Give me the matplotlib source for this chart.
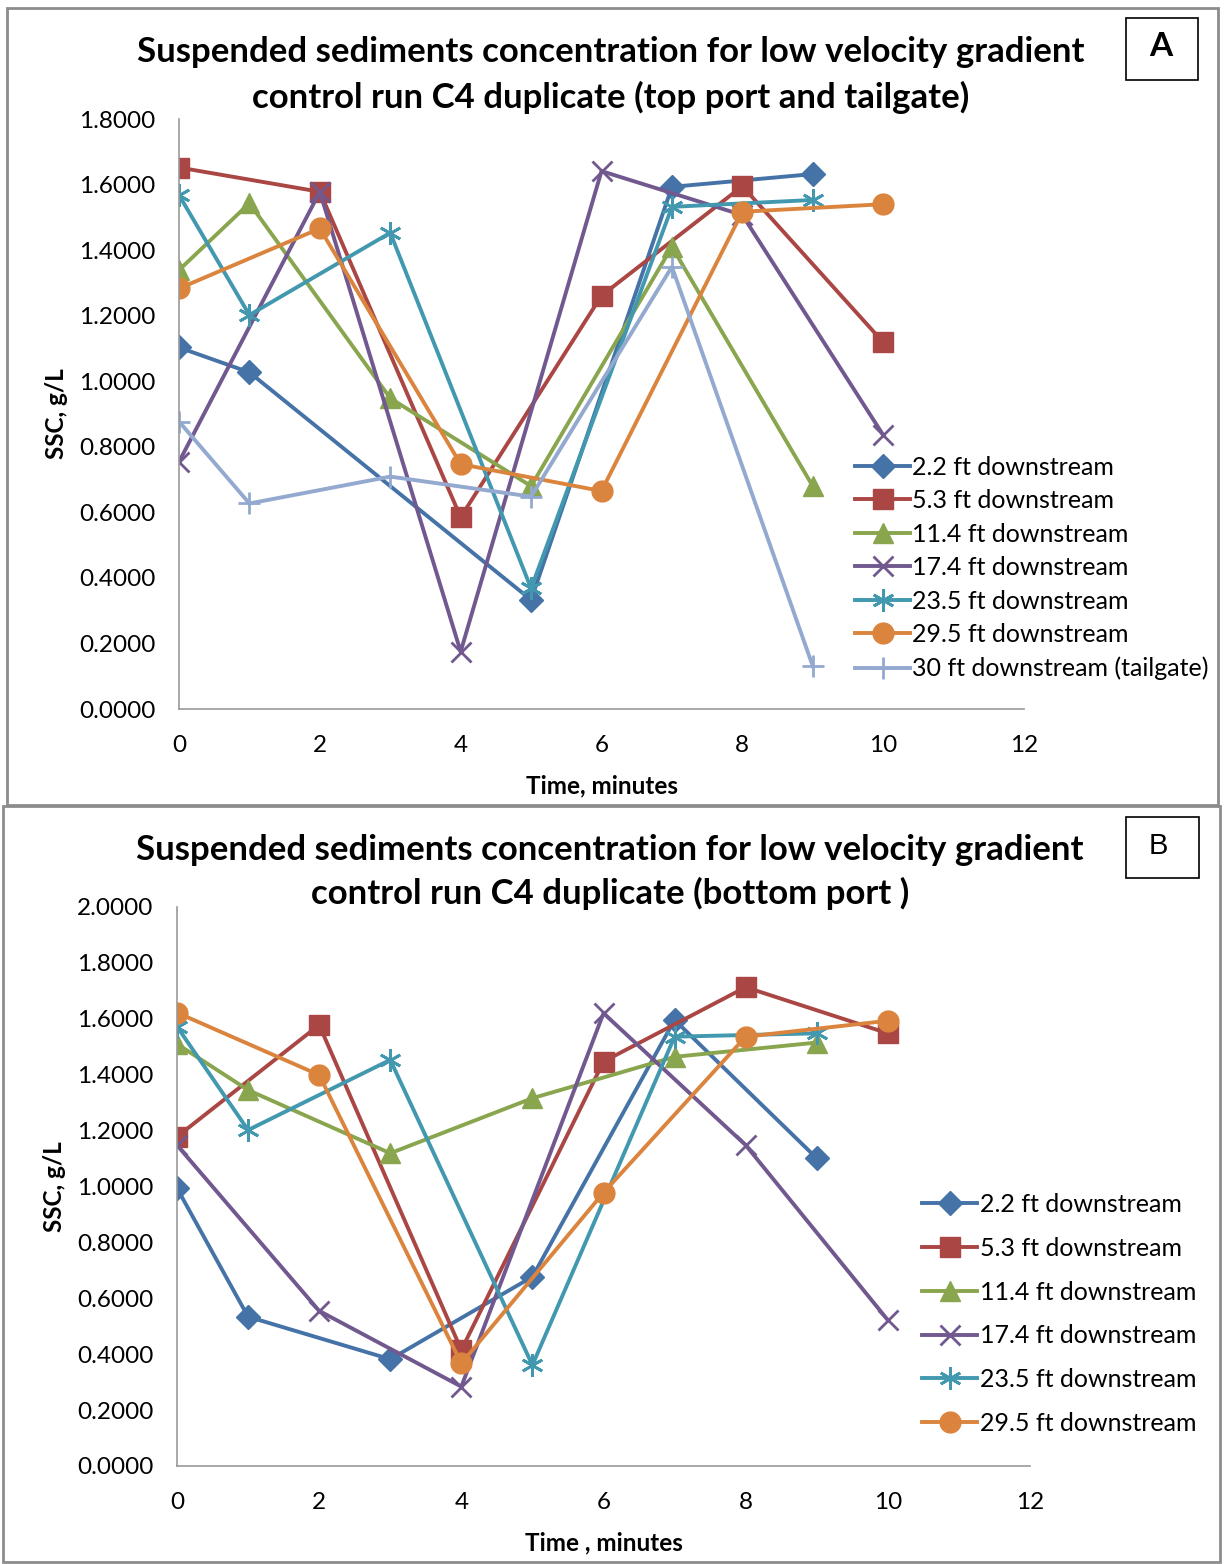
import numpy as np
import matplotlib
matplotlib.use("Agg")
import matplotlib.pyplot as plt
from matplotlib.patches import Rectangle

plt.rcParams['font.family'] = ['Lato', 'DejaVu Sans']

# Panel A: top port and tailgate
labels_a = ['2.2 ft downstream', '5.3 ft downstream', '11.4 ft downstream',
            '17.4 ft downstream', '23.5 ft downstream', '29.5 ft downstream',
            '30 ft downstream (tailgate)']
t_a = [
    [0, 1, 5, 7, 9],
    [0, 2, 4, 6, 8, 10],
    [0, 1, 3, 5, 7, 9],
    [0, 2, 4, 6, 8, 10],
    [0, 1, 3, 5, 7, 9],
    [0, 2, 4, 6, 8, 10],
    [0, 1, 3, 5, 7, 9],
]
ssc_a = [
    [1.103, 1.027, 0.333, 1.593, 1.632],
    [1.652, 1.578, 0.585, 1.261, 1.595, 1.119],
    [1.339, 1.543, 0.948, 0.680, 1.410, 0.680],
    [0.754, 1.578, 0.175, 1.641, 1.507, 0.836],
    [1.568, 1.202, 1.453, 0.368, 1.532, 1.553],
    [1.283, 1.466, 0.747, 0.665, 1.517, 1.540],
    [0.877, 0.627, 0.709, 0.648, 1.349, 0.131],
]

# Panel B: bottom port
labels_b = labels_a[:6]
t_b = [
    [0, 1, 3, 5, 7, 9],
    [0, 2, 4, 6, 8, 10],
    [0, 1, 3, 5, 7, 9],
    [0, 2, 4, 6, 8, 10],
    [0, 1, 3, 5, 7, 9],
    [0, 2, 4, 6, 8, 10],
]
ssc_b = [
    [0.994, 0.534, 0.382, 0.677, 1.596, 1.101],
    [1.178, 1.578, 0.415, 1.447, 1.713, 1.548],
    [1.510, 1.345, 1.119, 1.316, 1.464, 1.515],
    [1.148, 0.555, 0.284, 1.620, 1.148, 0.522],
    [1.572, 1.202, 1.453, 0.361, 1.536, 1.548],
    [1.622, 1.399, 0.367, 0.978, 1.536, 1.593],
]

colors = ['#4572A7', '#AA4643', '#89A54E', '#71588F', '#4198AF', '#DB843D', '#93A9CF']
markers = ['D', 's', '^', 'x', (6, 2, 0), 'o', '+']
msizes = [12, 14, 14, 14, 16, 15, 16]

W, H = 1225, 1564
fig = plt.figure(figsize=(W / 100, H / 100), dpi=100)


def box(x0, y0, x1, y1):
    # pixel box (top-left origin) -> figure fraction
    return [x0 / W, 1 - y1 / H, (x1 - x0) / W, (y1 - y0) / H]


def pt(x, y):
    return x / W, 1 - y / H


def frame(x0, y0, x1, y1, color, lw):
    fig.patches.append(Rectangle(pt(x0, y1), (x1 - x0) / W, (y1 - y0) / H,
                                 transform=fig.transFigure, fill=False,
                                 edgecolor=color, linewidth=lw))


def draw_panel(ax, times, values, labels, ymax, xlabel, leg_xy, leg_space):
    for i, (t, v) in enumerate(zip(times, values)):
        line_marker = markers[i] in ('x', '+') or isinstance(markers[i], tuple)
        ax.plot(t, v, color=colors[i], lw=2.8, marker=markers[i], ms=msizes[i],
                mew=2.0 if line_marker else 1.0, mec=colors[i], label=labels[i])
    ax.set_xlim(0, 12)
    ax.set_ylim(0, ymax)
    ax.set_xticks(np.arange(0, 13, 2))
    ax.set_yticks(np.arange(0, ymax + 1e-9, 0.2))
    ax.yaxis.set_major_formatter(matplotlib.ticker.FormatStrFormatter('%.4f'))
    ax.tick_params(length=0, labelsize=17.5)
    ax.tick_params(axis='y', pad=17)
    ax.tick_params(axis='x', pad=19)
    for s in ['top', 'right']:
        ax.spines[s].set_visible(False)
    for s in ['left', 'bottom']:
        ax.spines[s].set_color('#999999')
        ax.spines[s].set_linewidth(1.2)
    ax.set_ylabel('SSC, g/L', fontsize=17.5, fontweight='bold', labelpad=8)
    ax.set_xlabel(xlabel, fontsize=17.5, fontweight='bold', labelpad=13)
    ax.legend(loc='center left', bbox_to_anchor=pt(*leg_xy),
              bbox_transform=fig.transFigure, frameon=False,
              fontsize=18, handlelength=2.2, handletextpad=0.1,
              labelspacing=leg_space, borderaxespad=0, borderpad=0)


# Panel A
frame(7, 8, 1218, 805, '#8c8c8c', 2.0)
ax_a = fig.add_axes(box(179, 119, 1024, 709))
draw_panel(ax_a, t_a, ssc_a, labels_a, 1.8, 'Time, minutes', (855, 568), 0.42)
fig.text(*pt(611, 52), 'Suspended sediments concentration for low velocity gradient',
         fontsize=25, fontweight='bold', ha='center', va='center')
fig.text(*pt(611, 97), 'control run C4 duplicate (top port and tailgate)',
         fontsize=25, fontweight='bold', ha='center', va='center')
frame(1126, 18, 1198, 80, 'black', 1.2)
fig.text(*pt(1161, 47), 'A', fontsize=24, fontweight='bold',
         ha='center', va='center')

# Panel B
frame(3, 806, 1220, 1562, '#8c8c8c', 2.0)
ax_b = fig.add_axes(box(177, 907, 1030, 1466))
draw_panel(ax_b, t_b, ssc_b, labels_b, 2.0, 'Time , minutes', (922, 1314), 0.83)
fig.text(*pt(610, 850), 'Suspended sediments concentration for low velocity gradient',
         fontsize=25, fontweight='bold', ha='center', va='center')
fig.text(*pt(610, 893), 'control run C4 duplicate (bottom port )',
         fontsize=25, fontweight='bold', ha='center', va='center')
frame(1126, 817, 1199, 878, 'black', 1.2)
fig.text(*pt(1158, 846), 'B', fontsize=21, family='Liberation Sans',
         ha='center', va='center')

fig.savefig('out.png', dpi=100)
